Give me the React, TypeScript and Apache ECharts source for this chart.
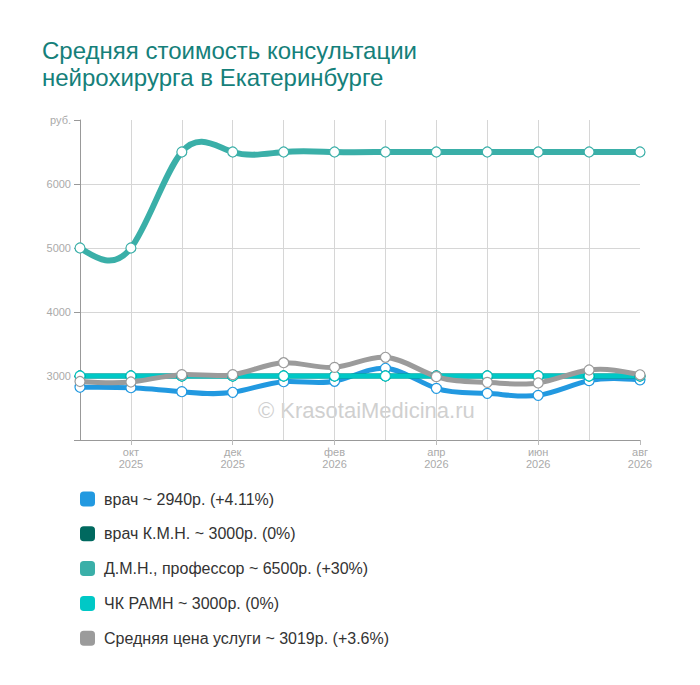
import React, { useEffect, useRef } from "react";
import * as echarts from "echarts";

const months = ["сен 2025", "окт 2025", "ноя 2025", "дек 2025", "янв 2026", "фев 2026", "мар 2026", "апр 2026", "май 2026", "июн 2026", "июл 2026", "авг 2026"];
const seriesNames = [
  "врач ~ 2940р. (+4.11%)",
  "врач К.М.Н. ~ 3000р. (0%)",
  "Д.М.Н., профессор ~ 6500р. (+30%)",
  "ЧК РАМН ~ 3000р. (0%)",
  "Средняя цена услуги ~ 3019р. (+3.6%)",
];
const seriesColors = ["#2299e0", "#00695f", "#3aafa8", "#00c8c6", "#9b9b9b"];
const vrach = [2824, 2817, 2755, 2745, 2911, 2917, 3120, 2807, 2729, 2698, 2927, 2940];
const vrachKMN = [3000, 3000, 3000, 3000, 3000, 3000, 3000, 3000, 3000, 3000, 3000, 3000];
const dmnProf = [5000, 5000, 6500, 6500, 6500, 6500, 6500, 6500, 6500, 6500, 6500, 6500];
const chkRamn = [3000, 3000, 3000, 3000, 3000, 3000, 3000, 3000, 3000, 3000, 3000, 3000];
const average = [2914, 2906, 3021, 3021, 3208, 3135, 3292, 2990, 2901, 2891, 3094, 3019];
const seriesData = [vrach, vrachKMN, dmnProf, chkRamn, average];
const yTicks = { min: 2000, max: 7000, interval: 1000 };
const titleText = "Средняя стоимость консультации\nнейрохирурга в Екатеринбурге";
const watermark = "© KrasotaiMedicina.ru";

// Natural cubic spline (uniform spacing) -> bezier rows [index, y0, y1, cpy1, cpy2]
function splineSegments(y: number[]) {
  const n = y.length;
  const M = new Array(n).fill(0);
  if (n > 2) {
    const m = n - 2;
    const a = new Array(m).fill(1);
    const b = new Array(m).fill(4);
    const c = new Array(m).fill(1);
    const d = new Array(m);
    for (let k = 0; k < m; k++) d[k] = 6 * (y[k + 2] - 2 * y[k + 1] + y[k]);
    for (let k = 1; k < m; k++) {
      const w = a[k] / b[k - 1];
      b[k] -= w * c[k - 1];
      d[k] -= w * d[k - 1];
    }
    const sol = new Array(m);
    sol[m - 1] = d[m - 1] / b[m - 1];
    for (let k = m - 2; k >= 0; k--) sol[k] = (d[k] - c[k] * sol[k + 1]) / b[k];
    for (let k = 0; k < m; k++) M[k + 1] = sol[k];
  }
  const rows: number[][] = [];
  for (let i = 0; i < n - 1; i++) {
    const dy = y[i + 1] - y[i];
    const d0 = dy - (2 * M[i] + M[i + 1]) / 6;
    const d1 = dy + (M[i] + 2 * M[i + 1]) / 6;
    rows.push([i, y[i], y[i + 1], y[i] + d0 / 3, y[i + 1] - d1 / 3]);
  }
  return rows;
}

export default function App() {
  const ref = useRef<HTMLDivElement>(null);
  useEffect(() => {
    document.body.style.margin = "0";
    const chart = echarts.init(ref.current!, null, { renderer: "svg" });
    const font = "'Liberation Sans', Arial, sans-serif";
    const curveSeries = seriesNames.map((name, si) => ({
      name,
      type: "custom",
      data: splineSegments(seriesData[si]),
      encode: { x: 0, y: 1 },
      z: 2,
      silent: true,
      renderItem: (params: any, api: any) => {
        const i = api.value(0);
        const p1 = api.coord([i, api.value(1)]);
        const p2 = api.coord([i + 1, api.value(2)]);
        const c1 = api.coord([i, api.value(3)]);
        const c2 = api.coord([i + 1, api.value(4)]);
        return {
          type: "bezierCurve",
          shape: {
            x1: p1[0],
            y1: p1[1],
            x2: p2[0],
            y2: p2[1],
            cpx1: p1[0] + (p2[0] - p1[0]) / 3,
            cpy1: c1[1],
            cpx2: p2[0] - (p2[0] - p1[0]) / 3,
            cpy2: c2[1],
          },
          style: { stroke: seriesColors[si], lineWidth: si === 2 ? 6 : 5, fill: null, lineCap: "round" },
        };
      },
    }));
    const markerSeries = seriesNames.map((name, si) => ({
      name,
      type: "line",
      data: seriesData[si],
      color: seriesColors[si],
      symbol: "circle",
      symbolSize: 10,
      showAllSymbol: true,
      lineStyle: { width: 0, opacity: 0 },
      itemStyle: { color: "#fff", borderColor: seriesColors[si], borderWidth: 1.2 },
      z: 3,
    }));
    chart.setOption({
      animation: false,
      textStyle: { fontFamily: font },
      title: {
        text: titleText,
        left: 42,
        top: 37,
        padding: 0,
        textStyle: { fontSize: 24, fontWeight: "normal", color: "#15807a", lineHeight: 27, fontFamily: font },
      },
      graphic: [
        {
          type: "text",
          left: 258,
          top: 399,
          z: 0,
          style: { text: watermark, fontSize: 22, fill: "#d0d0d0", fontFamily: font },
        },
      ],
      legend: {
        orient: "vertical",
        left: 80,
        top: 491,
        padding: 0,
        itemWidth: 15,
        itemHeight: 15,
        itemGap: 18.8,
        icon: "roundRect",
        textStyle: { fontSize: 16, color: "#333", padding: [0, 0, 0, 4], fontFamily: font },
        data: seriesNames.map((nm, i) => ({ name: nm, itemStyle: { color: seriesColors[i], borderWidth: 0 } })),
        selectedMode: false,
      },
      grid: { left: 80, right: 60, top: 120, bottom: 245, containLabel: false },
      xAxis: {
        type: "category",
        data: months,
        boundaryGap: false,
        axisLine: { lineStyle: { color: "#999" } },
        axisTick: { show: true, interval: (i: number) => i % 2 === 1, length: 5, lineStyle: { color: "#bbb" } },
        axisLabel: {
          interval: (i: number) => i % 2 === 1,
          color: "#aaa",
          fontSize: 11,
          lineHeight: 12,
          margin: 6,
          formatter: (v: string) => v.replace(" ", "\n"),
        },
        splitLine: { show: true, interval: (i: number) => i !== 0 && i !== 11, lineStyle: { color: "#d6d6d6" } },
      },
      yAxis: {
        type: "value",
        min: yTicks.min,
        max: yTicks.max,
        interval: yTicks.interval,
        axisLine: { show: true, lineStyle: { color: "#999" } },
        axisTick: { show: true, length: 6, lineStyle: { color: "#999" } },
        axisLabel: {
          color: "#aaa",
          fontSize: 11,
          margin: 9,
          formatter: (v: number) => (v === yTicks.min ? "" : v === yTicks.max ? "руб." : String(v)),
        },
        splitLine: {
          show: true,
          lineStyle: { color: ["transparent", "#d6d6d6", "#d6d6d6", "#d6d6d6", "#d6d6d6", "transparent"] },
        },
      },
      series: [...curveSeries, ...markerSeries],
    });
    return () => chart.dispose();
  }, []);
  return <div ref={ref} style={{ width: 700, height: 685 }} />;
}
